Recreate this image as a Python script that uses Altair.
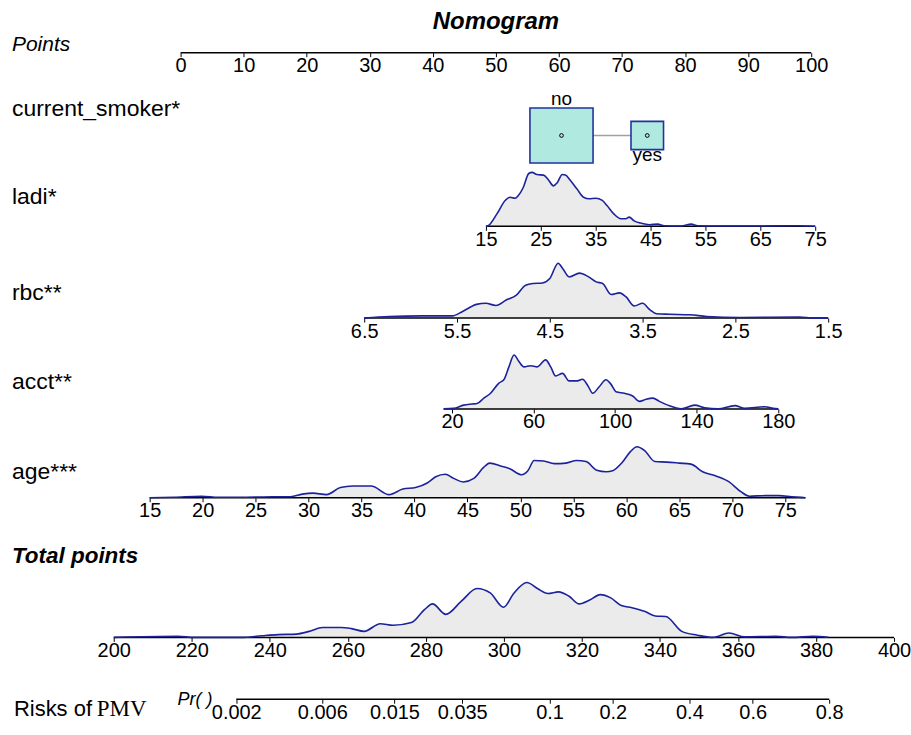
import altair as alt
import pandas as pd
import numpy as np

# ---------------- data ----------------
points_ticks = [0, 10, 20, 30, 40, 50, 60, 70, 80, 90, 100]

smoker_cats = ["no", "yes"]
smoker_points = [60.4, 74.0]
smoker_freq = [0.79, 0.21]

ladi_ticks = [15, 25, 35, 45, 55, 65, 75]
ladi_x = [15, 15.4, 17, 18.5, 19.4, 20.3, 20.9, 21.8, 22.8, 23.4, 24.3, 25.5, 26.4, 27.3, 28,
          28.9, 29.5, 30.4, 31.6, 32.8, 33.8, 35, 36.2, 37.1, 38.3, 39.6, 40.5, 41.1, 42, 43.2,
          44.8, 46.3, 47.5, 50.6, 52.4, 53.6, 56.7, 62.8, 72, 75]
ladi_d = [0, 0.01, 0.23, 0.48, 0.54, 0.52, 0.57, 0.72, 0.98, 1.0, 0.96, 0.95, 0.86, 0.75, 0.81,
          0.96, 0.95, 0.85, 0.69, 0.54, 0.51, 0.52, 0.48, 0.38, 0.23, 0.14, 0.14, 0.17, 0.10, 0.06,
          0.03, 0.04, 0.01, 0.005, 0.04, 0.01, 0.005, 0.005, 0.01, 0]

rbc_ticks = [6.5, 5.5, 4.5, 3.5, 2.5, 1.5]
rbc_x = [6.5, 6.23, 5.87, 5.69, 5.55, 5.44, 5.29, 5.19, 5.08, 4.97, 4.86, 4.76, 4.68, 4.58, 4.5,
         4.41, 4.36, 4.29, 4.18, 4.09, 4.0, 3.93, 3.84, 3.75, 3.68, 3.59, 3.5, 3.42, 3.35, 3.21,
         2.99, 2.81, 2.45, 1.81, 1.66, 1.5]
rbc_d = [0, 0.03, 0.04, 0.04, 0.04, 0.12, 0.25, 0.27, 0.23, 0.33, 0.42, 0.60, 0.63, 0.64, 0.72,
         1.0, 0.90, 0.75, 0.82, 0.76, 0.66, 0.63, 0.43, 0.46, 0.39, 0.22, 0.27, 0.15, 0.08, 0.07,
         0.06, 0.03, 0.01, 0.02, 0, 0]

acct_ticks = [20, 60, 100, 140, 180]
acct_x = [15.9, 20.8, 25.7, 29.8, 32.3, 35.6, 38.9, 43, 45.4, 47.9, 50.4, 52.8, 55.3, 58.6, 61.8,
          65.9, 68.4, 70.8, 74.2, 77.4, 81.5, 84, 86.5, 89, 92.2, 95.5, 97.9, 100.4, 104.5, 108.6,
          111.9, 115.2, 118.5, 121.7, 125.8, 132.4, 139, 143.9, 150.5, 158.7, 163.6, 173.4, 177.5, 180]
acct_d = [0, 0.01, 0.07, 0.09, 0.10, 0.20, 0.29, 0.48, 0.54, 0.78, 1.0, 0.88, 0.78, 0.80, 0.78,
          0.91, 0.78, 0.61, 0.66, 0.52, 0.52, 0.55, 0.44, 0.29, 0.41, 0.54, 0.46, 0.32, 0.29, 0.24,
          0.14, 0.18, 0.20, 0.14, 0.07, 0.0, 0.07, 0.02, 0, 0.06, 0.01, 0.04, 0.01, 0]

age_ticks = [15, 20, 25, 30, 35, 40, 45, 50, 55, 60, 65, 70, 75]
age_x = [15, 17.3, 19.9, 21.5, 24.1, 26.6, 28.3, 29.4, 30.4, 31.7, 33, 34.2, 35.9, 37.6, 38.9,
         40.1, 41.2, 42, 42.9, 43.7, 44.6, 45.6, 46.5, 47.1, 48.2, 49, 50.1, 50.7, 51.3, 52.2,
         53.2, 54.3, 55.3, 56.2, 57.2, 58.1, 58.7, 59.6, 60.4, 61, 61.7, 62.7, 63.8, 65, 66.1,
         67.2, 68.4, 69.7, 70.8, 71.6, 73.1, 74.4, 75.6, 76.9]
age_d = [0, 0.01, 0.03, 0.01, 0.01, 0.02, 0.02, 0.07, 0.09, 0.06, 0.20, 0.23, 0.23, 0.06, 0.17,
         0.20, 0.29, 0.41, 0.46, 0.38, 0.31, 0.38, 0.59, 0.68, 0.62, 0.57, 0.45, 0.53, 0.73, 0.72,
         0.67, 0.68, 0.73, 0.71, 0.54, 0.51, 0.53, 0.69, 0.91, 1.0, 0.93, 0.71, 0.70, 0.68, 0.66,
         0.51, 0.43, 0.31, 0.12, 0.03, 0.04, 0.04, 0.02, 0]

total_ticks = [200, 220, 240, 260, 280, 300, 320, 340, 360, 380, 400]
total_x = [200, 216.5, 220.6, 232.7, 238, 242.1, 246.8, 250.1, 253.5, 258.2, 260.9, 264.2, 268.3,
           271.6, 276.3, 279.7, 281.7, 285.1, 289.1, 293.1, 296.5, 299.9, 302.6, 305.9, 308.6,
           311.3, 314, 316.7, 319.3, 322, 324.7, 327.4, 330.1, 332.8, 336.2, 338.8, 341.5, 345.6,
           349.6, 353.6, 357.7, 361.7, 369.8, 373.8, 379.2, 383.2]
total_d = [0, 0.02, 0, 0, 0.03, 0.05, 0.06, 0.11, 0.18, 0.18, 0.16, 0.11, 0.25, 0.22, 0.27, 0.51,
           0.61, 0.42, 0.66, 0.89, 0.81, 0.55, 0.81, 1.0, 0.89, 0.80, 0.83, 0.75, 0.61, 0.68, 0.78,
           0.72, 0.58, 0.54, 0.47, 0.39, 0.38, 0.11, 0.04, 0, 0.08, 0.01, 0.02, 0, 0.02, 0]

risk_ticks = [0.002, 0.006, 0.015, 0.035, 0.1, 0.2, 0.4, 0.6, 0.8]


def logit(p):
    return float(np.log(p / (1 - p)))


# ---------------- layout ----------------
W = 911
FONT = "Liberation Sans"
NAVY = "#1c2299"
FILL = "#ebebeb"
LABEL_SIZE = 23
TICK_SIZE = 20

# pixel anchors (value1, px1, value2, px2)
ANCH = {
    "points": (0, 181, 100, 813),
    "ladi": (15, 487, 75, 817),
    "rbc": (6.5, 365, 1.5, 830),
    "acct": (20, 453, 180, 780),
    "age": (15, 150, 75, 787),
    "total": (200, 114, 400, 896),
    "risk": (logit(0.006), 323, logit(0.8), 831),
}


def xscale(key):
    v1, p1, v2, p2 = ANCH[key]
    s = (p2 - p1) / (v2 - v1)
    a = v1 - p1 / s
    b = v1 + (W - p1) / s
    if a < b:
        return alt.Scale(domain=[a, b], nice=False, zero=False)
    return alt.Scale(domain=[b, a], nice=False, zero=False, reverse=True)


AXIS = dict(domain=False, grid=False, ticks=True, tickSize=4, tickColor="black", tickWidth=1,
            labelFont=FONT, labelFontSize=TICK_SIZE, labelColor="black", labelPadding=-1,
            title=None, labelFlush=False, labelOverlap=False)


def make_axis(ticks, **kw):
    return alt.Axis(values=ticks, **AXIS, **kw)


def axis_rule(key, lo, hi, h, axis):
    df = pd.DataFrame({"a": [lo], "b": [hi]})
    return alt.Chart(df).mark_rule(color="black", strokeWidth=1.5).encode(
        x=alt.X("a:Q", scale=xscale(key), axis=axis),
        x2="b:Q",
        y=alt.value(h),
    )


def density(key, xs, ds, h, peak, axis):
    df = pd.DataFrame({"x": xs, "d": ds})
    ys = alt.Scale(domain=[0, h / peak], nice=False, zero=True)
    enc = dict(x=alt.X("x:Q", scale=xscale(key), axis=axis),
               y=alt.Y("d:Q", scale=ys, axis=None))
    area = alt.Chart(df).mark_area(color=FILL, interpolate="monotone", opacity=1).encode(**enc)
    line = alt.Chart(df).mark_line(color=NAVY, strokeWidth=1.6, interpolate="monotone").encode(**enc)
    return area, line


def label(text, x, y, size=LABEL_SIZE, italic=False, bold=False, align="left", font=FONT):
    df = pd.DataFrame({"t": [text]})
    return alt.Chart(df).mark_text(
        align=align, baseline="middle", font=font, fontSize=size,
        fontStyle="italic" if italic else "normal",
        fontWeight="bold" if bold else "normal", color="black",
    ).encode(text="t:N", x=alt.value(x), y=alt.value(y))


bounds = [0, 52, 166, 226, 318, 409, 498, 638, 700]
H = [bounds[i + 1] - bounds[i] for i in range(len(bounds) - 1)]

# Panel 0: Points
p0 = alt.layer(
    axis_rule("points", 0, 100, H[0], make_axis(points_ticks, format="d")),
    label("Nomogram", 497, 21, size=24, italic=True, bold=True, align="center"),
    label("Points", 12, 44, size=21, italic=True),
).properties(width=W, height=H[0])

# Panel 1: current smoker
sm = pd.DataFrame({"cat": smoker_cats, "pts": smoker_points, "freq": smoker_freq})
conn = pd.DataFrame({"a": [min(smoker_points)], "b": [max(smoker_points)]})
sx = xscale("points")
box_y = 83
RECT = "M-1.15,-1L1.15,-1L1.15,1L-1.15,1Z"
p1 = alt.layer(
    alt.Chart(conn).mark_rule(color="#a0a0a0", strokeWidth=1.5).encode(
        x=alt.X("a:Q", scale=sx, axis=None), x2="b:Q", y=alt.value(box_y)),
    alt.Chart(sm).mark_point(shape=RECT, filled=True, fill="#b0e9df", stroke="#2233a0",
                             strokeWidth=1.6, opacity=1).encode(
        x=alt.X("pts:Q", scale=sx, axis=None), y=alt.value(box_y),
        size=alt.Size("freq:Q", scale=alt.Scale(domain=[0, 0.79], range=[0, 3025]), legend=None)),
    alt.Chart(sm).mark_point(shape="circle", filled=False, color="black", size=14,
                             strokeWidth=1, opacity=1).encode(
        x=alt.X("pts:Q", scale=sx, axis=None), y=alt.value(box_y)),
    alt.Chart(sm).transform_filter(alt.datum.cat == "no").mark_text(
        font=FONT, fontSize=19, color="black", baseline="middle").encode(
        x=alt.X("pts:Q", scale=sx, axis=None), y=alt.value(46), text="cat:N"),
    alt.Chart(sm).transform_filter(alt.datum.cat == "yes").mark_text(
        font=FONT, fontSize=19, color="black", baseline="middle").encode(
        x=alt.X("pts:Q", scale=sx, axis=None), y=alt.value(103), text="cat:N"),
    label("current_smoker*", 12, 56),
).properties(width=W, height=H[1])


def var_panel(key, xs, ds, ticks, h, peak, name, name_y, fmt, name_size=LABEL_SIZE,
              bold=False, italic=False, lo=None, hi=None):
    axis = make_axis(ticks, format=fmt)
    area, line = density(key, xs, ds, h, peak, axis)
    lo = min(min(xs), min(ticks)) if lo is None else lo
    hi = max(max(xs), max(ticks)) if hi is None else hi
    return alt.layer(
        area,
        axis_rule(key, lo, hi, h, axis),
        line,
        label(name, 12, name_y, size=name_size, bold=bold, italic=italic),
    ).properties(width=W, height=h)


p2 = var_panel("ladi", ladi_x, ladi_d, ladi_ticks, H[2], 54, "ladi*", 31, "d")
p3 = var_panel("rbc", rbc_x, rbc_d, rbc_ticks, H[3], 55, "rbc**", 67, ".1f")
p4 = var_panel("acct", acct_x, acct_d, acct_ticks, H[4], 54, "acct**", 64, "d")
p5 = var_panel("age", age_x, age_d, age_ticks, H[5], 51, "age***", 63, "d")
p6 = var_panel("total", total_x, total_d, total_ticks, H[6], 55, "Total points", 58, "d",
               name_size=22.5, bold=True, italic=True, lo=200, hi=400)

# Panel 7: risk
risk_vals = [logit(p) for p in risk_ticks]
risk_axis = make_axis(risk_vals, labelExpr="format(1/(1+exp(-datum.value)), '.3~f')")
p7 = alt.layer(
    axis_rule("risk", min(risk_vals), max(risk_vals), H[7], risk_axis),
    label("Risks of", 14, 72, size=22),
    label("PMV", 97, 72, size=23, font="Liberation Serif"),
    label("Pr( )", 178, 63, size=18, italic=True),
).properties(width=W, height=H[7])

chart = alt.vconcat(p0, p1, p2, p3, p4, p5, p6, p7, spacing=0, bounds="flush").resolve_scale(
    x="independent", y="independent", size="independent"
).properties(padding=0).configure_view(stroke=None)

chart.save("out.html", embed_options={"renderer": "svg", "actions": False})
